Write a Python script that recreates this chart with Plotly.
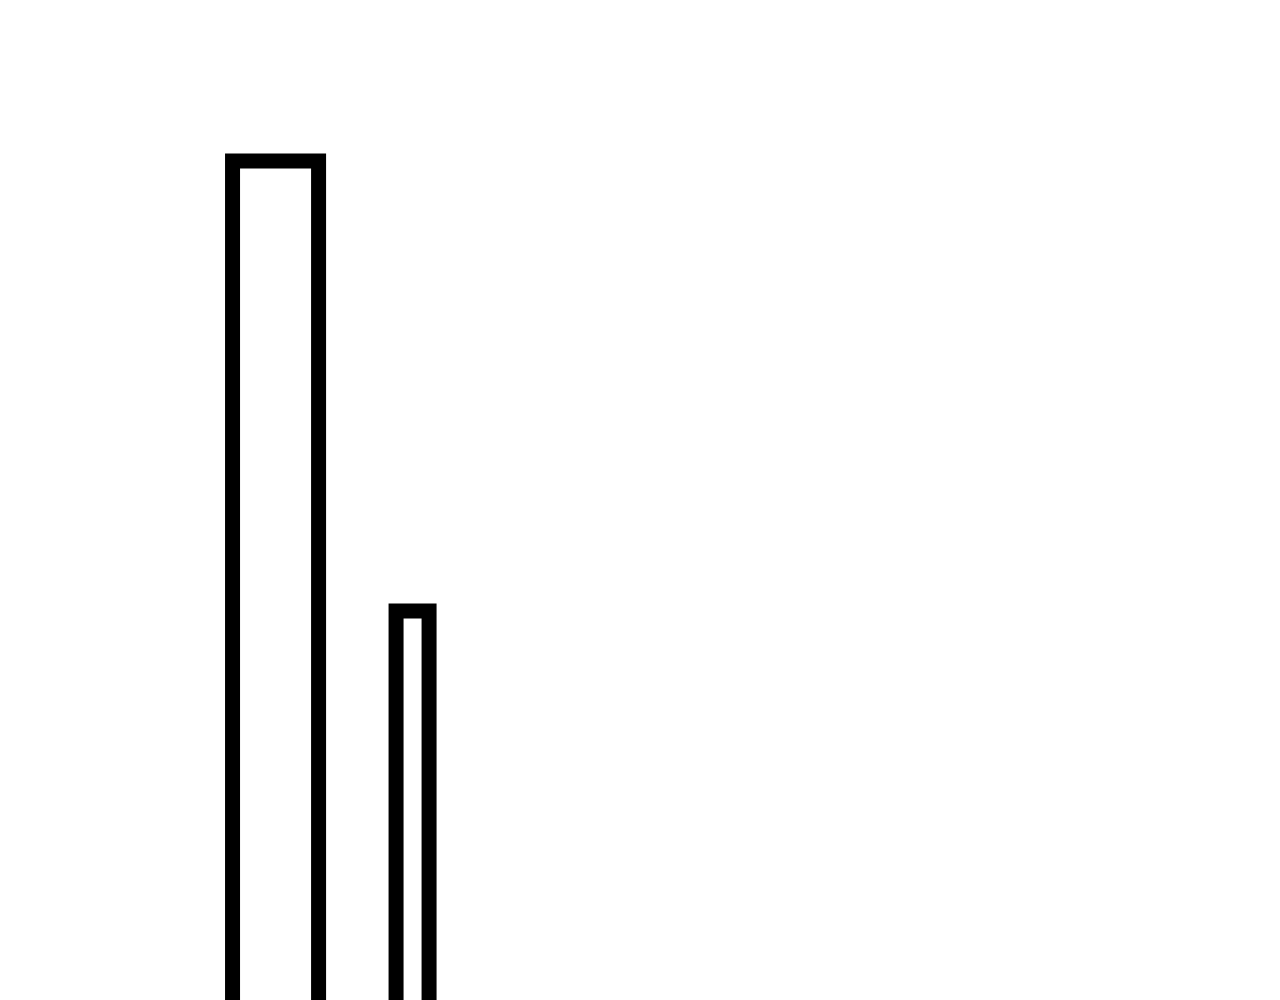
import plotly.graph_objects as go

categories = ["A", "B"]
values = [100, 50]

fig = go.Figure()
fig.add_trace(go.Bar(
    x=categories,
    y=values,
    width=[0.628, 0.241],
    marker=dict(color="white", line=dict(color="black", width=15)),
))
fig.update_layout(
    width=1280, height=1000,
    margin=dict(l=0, r=0, t=0, b=0),
    plot_bgcolor="white", paper_bgcolor="white",
    showlegend=False,
    xaxis=dict(visible=False, range=[-1.953, 7.39]),
    yaxis=dict(visible=False, range=[5.89, 117.0]),
)
fig.write_html("out.html")
